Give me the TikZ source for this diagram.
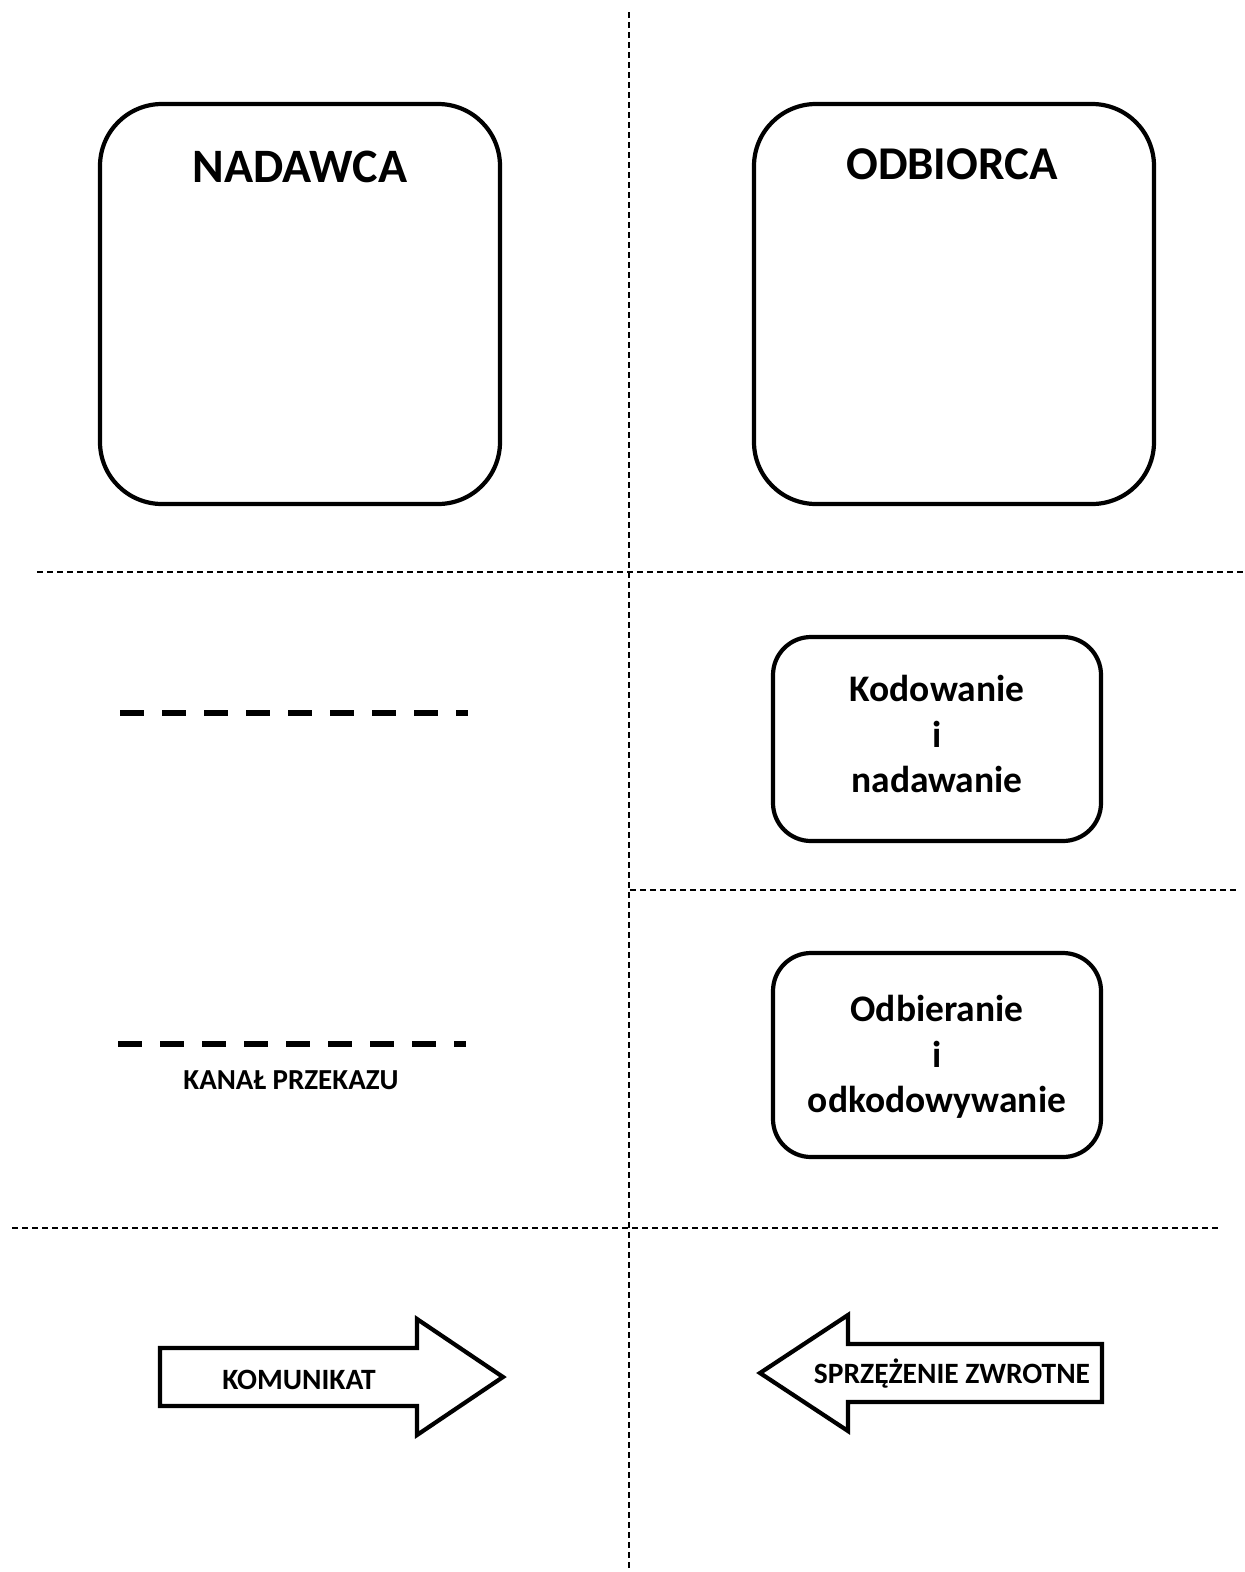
\documentclass[tikz,border=0pt]{standalone}
\usepackage{fontspec}
\setmainfont{Carlito}
\begin{document}
\begin{tikzpicture}[x=1pt,y=-1pt,
  sep/.style={line width=1.6pt, dash pattern=on 6pt off 4pt},
  bigbox/.style={draw, line width=4.2pt, rounded corners=62pt, minimum width=400pt, minimum height=400pt},
  smallbox/.style={draw, line width=4.2pt, rounded corners=38pt, minimum width=328pt, minimum height=204pt},
  chan/.style={line width=6pt, dash pattern=on 24pt off 18pt},
  arrowshape/.style={draw, line width=4.2pt, line join=miter},
  txt/.style={font=\bfseries, inner sep=0pt, align=center}
]
\useasboundingbox (0,0) rectangle (1245,1572);
% separators
\coordinate (vt) at (629,12);
\coordinate (vb) at (629,1572);
\draw[sep] (vt) -- (vb);
\coordinate (h1l) at (37,572);
\coordinate (h1r) at (1245,572);
\draw[sep] (h1l) -- (h1r);
\coordinate (h2l) at (630,890);
\coordinate (h2r) at (1236,890);
\draw[sep] (h2l) -- (h2r);
\coordinate (h3l) at (12,1228);
\coordinate (h3r) at (1221,1228);
\draw[sep] (h3l) -- (h3r);
% big boxes
\node[bigbox] (nad) at (300,304) {};
\node[txt, font=\bfseries\fontsize{48}{56}\selectfont] (nadt) at (300,167) {NADAWCA};
\node[bigbox] (odb) at (954,304) {};
\node[txt, font=\bfseries\fontsize{47}{56}\selectfont] (odbt) at (952,164) {ODBIORCA};
% small boxes
\node[smallbox] (kod) at (937,739) {};
\node[txt, font=\bfseries\fontsize{37.5}{45.5}\selectfont] (kodt) at (937,734) {Kodowanie\\i\\nadawanie};
\node[smallbox] (odk) at (937,1055) {};
\node[txt, font=\bfseries\fontsize{37.5}{45.5}\selectfont] (odkt) at (937,1057) {Odbieranie\\i\\odkodowywanie};
% channel lines
\coordinate (c1l) at (120,713);
\coordinate (c1r) at (468,713);
\draw[chan] (c1l) -- (c1r);
\coordinate (c2l) at (118,1044);
\coordinate (c2r) at (466,1044);
\draw[chan] (c2l) -- (c2r);
\node[txt, font=\bfseries\fontsize{29}{34}\selectfont] (kanal) at (291,1080) {KANAŁ PRZEKAZU};
% arrows
\draw[arrowshape] (160,1348) -- (417,1348) -- (417,1319) -- (503,1377) -- (417,1435) -- (417,1406) -- (160,1406) -- cycle;
\node[txt, font=\bfseries\fontsize{29.5}{34}\selectfont] (kom) at (299,1380) {KOMUNIKAT};
\draw[arrowshape] (1102,1344) -- (848,1344) -- (848,1315) -- (760,1373) -- (848,1431) -- (848,1402) -- (1102,1402) -- cycle;
\node[txt, font=\bfseries\fontsize{29.5}{34}\selectfont] (spr) at (952,1374) {SPRZĘŻENIE ZWROTNE};
\end{tikzpicture}
\end{document}
